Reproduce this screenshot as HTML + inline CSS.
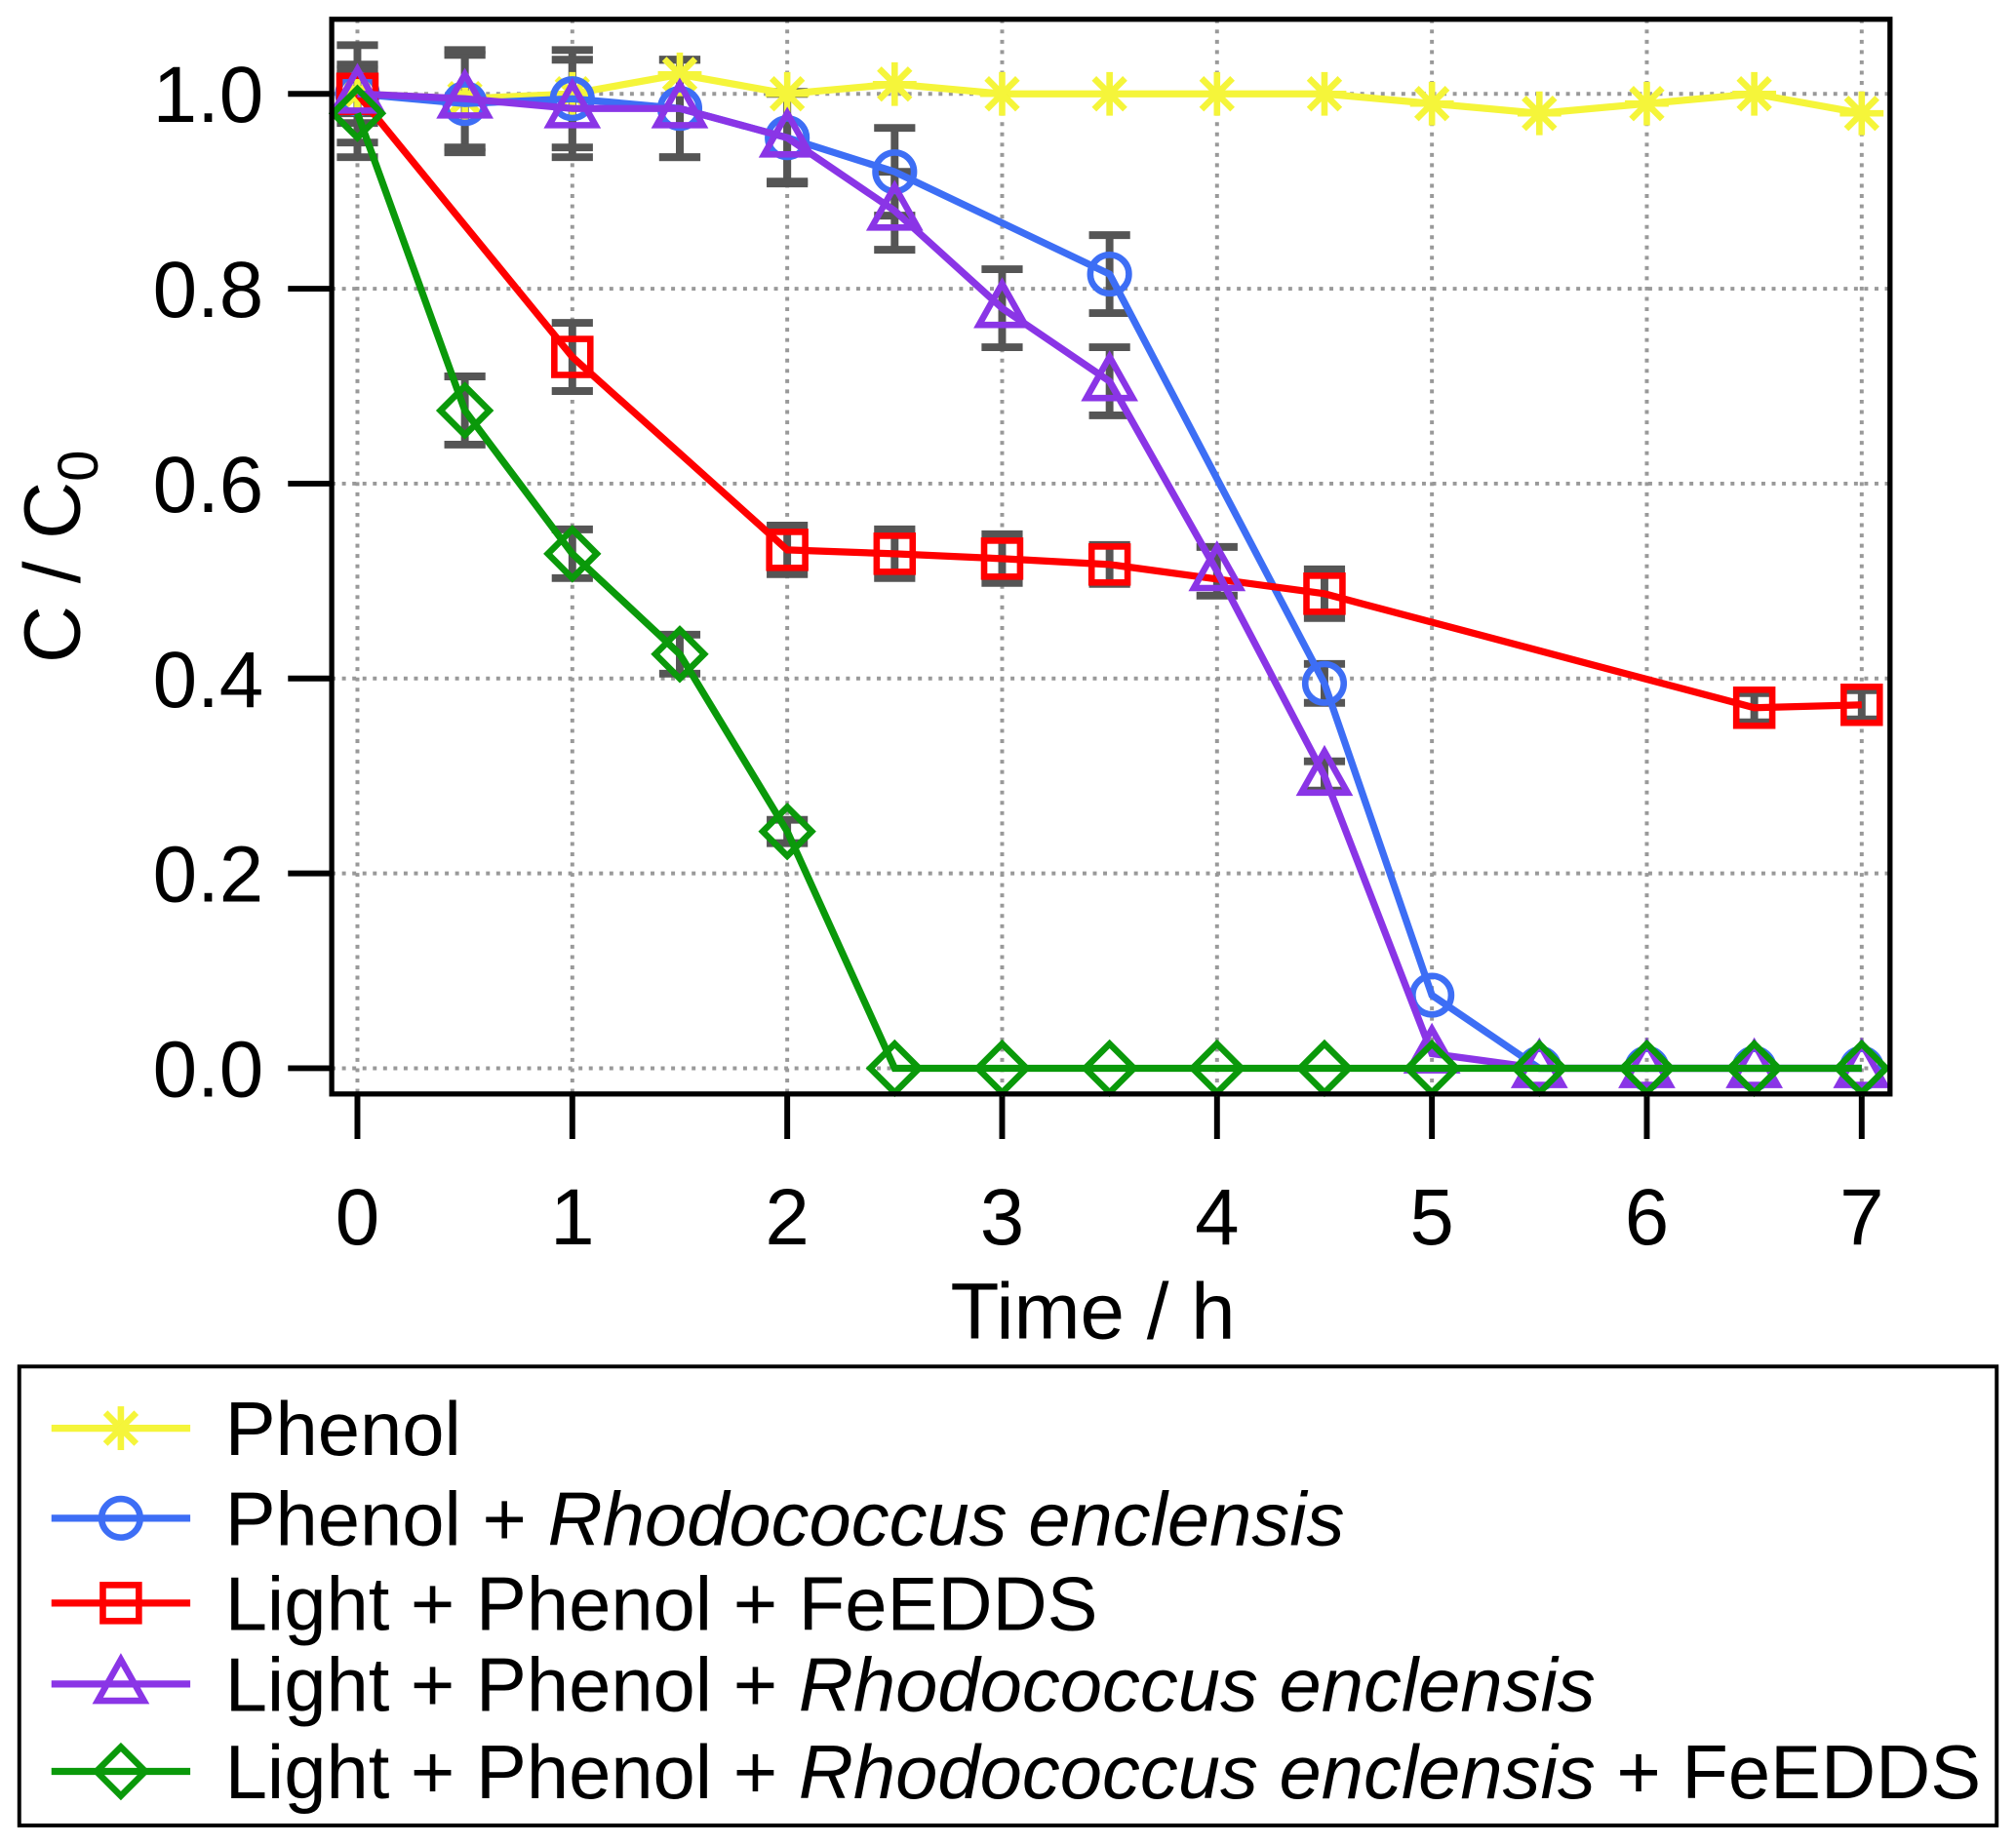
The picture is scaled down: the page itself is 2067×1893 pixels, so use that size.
<!DOCTYPE html>
<html><head><meta charset="utf-8"><style>
html,body{margin:0;padding:0;background:#fff}
svg{display:block}
text{font-family:"Liberation Sans",Arial,sans-serif;fill:#000}
</style></head><body>
<svg id="chart" width="2067" height="1893" viewBox="0 0 1568 1436" xmlns="http://www.w3.org/2000/svg">
<g id="grid"></g>
<g id="ticks"></g>
<g id="series"></g>
<rect x="258" y="15" width="1212" height="836" fill="none" stroke="#000" stroke-width="4"/>
<text x="850" y="1041" font-size="62" text-anchor="middle">Time / h</text>
<text transform="translate(62,433) rotate(-90)" font-size="62" text-anchor="middle">C / C<tspan font-size="44" dy="14">0</tspan></text>
<g>
<rect x="15" y="1063" width="1538" height="357" fill="#fff" stroke="#000" stroke-width="3"/>
<g id="legend-items"></g>
</g>
</svg>
<script>
const X_TICKS = [0,1,2,3,4,5,6,7];
const Y_TICKS = [0.0,0.2,0.4,0.6,0.8,1.0];
const Y_TICK_LABELS = ["0.0","0.2","0.4","0.6","0.8","1.0"];

const phenolT = [0,0.5,1,1.5,2,2.5,3,3.5,4,4.5,5,5.5,6,6.5,7];
const phenolV = [1.0,0.995,1.0,1.02,1.0,1.01,1.0,1.0,1.0,1.0,0.99,0.98,0.99,1.0,0.98];

const bioT = [0,0.5,1,1.5,2,2.5,3.5,4.5,5,5.5,6,6.5,7];
const bioV = [1.0,0.99,0.995,0.985,0.955,0.92,0.815,0.395,0.075,0,0,0,0];
const bioE = [0.05,0.05,0.05,0.05,0.047,0.045,0.04,0.02,0,0,0,0,0];

const feT = [0,1,2,2.5,3,3.5,4.5,6.5,7];
const feV = [1.0,0.73,0.532,0.528,0.523,0.517,0.487,0.37,0.373];
const feE = [0.02,0.035,0.025,0.025,0.025,0.02,0.025,0.015,0.015];

const lbT = [0,0.5,1,1.5,2,2.5,3,3.5,4,4.5,5,5.5,6,6.5,7];
const lbV = [1.0,0.995,0.985,0.985,0.955,0.88,0.78,0.705,0.51,0.30,0.015,0,0,0,0];
const lbE = [0.03,0.05,0.05,0.05,0.045,0.04,0.04,0.035,0.025,0.015,0,0,0,0,0];

const allT = [0,0.5,1,1.5,2,2.5,3,3.5,4,4.5,5,5.5,6,6.5,7];
const allV = [0.98,0.675,0.528,0.425,0.243,0,0,0,0,0,0,0,0,0,0];
const allE = [0.045,0.035,0.025,0.02,0.012,0,0,0,0,0,0,0,0,0,0];

const NS="http://www.w3.org/2000/svg";
const xs = t => 278 + t*(1448-278)/7;
const ys = v => 831 - v*(831-73);
function mk(tag, attrs, parent){const e=document.createElementNS(NS,tag);for(const k in attrs)e.setAttribute(k,attrs[k]);parent.appendChild(e);return e;}

const grid=document.getElementById('grid'), ticks=document.getElementById('ticks'), ser=document.getElementById('series');
X_TICKS.forEach(t=>{
  const g=mk('line',{x1:xs(t),x2:xs(t),y1:15,y2:851,stroke:'#999','stroke-width':3,'stroke-dasharray':'3 5'},grid);
  
  
  const tk=mk('line',{x1:xs(t),x2:xs(t),y1:851,y2:886,stroke:'#000','stroke-width':4.5},ticks);
  
  
  const tl=mk('text',{x:xs(t),y:968,'font-size':62,'text-anchor':'middle'},ticks);
  tl.textContent=String(t);
  
  
});
Y_TICKS.forEach((v,i)=>{
  const g=mk('line',{x1:258,x2:1470,y1:ys(v),y2:ys(v),stroke:'#999','stroke-width':3,'stroke-dasharray':'3 5'},grid);
  
  
  const tk=mk('line',{x1:224,x2:258,y1:ys(v),y2:ys(v),stroke:'#000','stroke-width':4.5},ticks);
  
  
  const tl=mk('text',{x:205,y:ys(v)+22,'font-size':62,'text-anchor':'end'},ticks);
  tl.textContent=Y_TICK_LABELS[i];
  
  
});

function marker(shape,cx,cy,color,parent){
  const r=14, sw=5;
  let e;
  if(shape==='star'){
    e=mk('g',{stroke:color,'stroke-width':5},parent);
    [0,45,90,135].forEach(a=>{const rad=a*Math.PI/180;mk('line',{x1:cx-17*Math.cos(rad),y1:cy-17*Math.sin(rad),x2:cx+17*Math.cos(rad),y2:cy+17*Math.sin(rad)},e);});
  } else if(shape==='circle'){
    e=mk('circle',{cx:cx,cy:cy,r:r+1,fill:'none',stroke:color,'stroke-width':sw},parent);
  } else if(shape==='square'){
    e=mk('rect',{x:cx-r,y:cy-r,width:2*r,height:2*r,fill:'none',stroke:color,'stroke-width':sw},parent);
  } else if(shape==='triangle'){
    e=mk('polygon',{points:`${cx},${cy-19} ${cx-18},${cy+13} ${cx+18},${cy+13}`,fill:'none',stroke:color,'stroke-width':sw},parent);
  } else {
    e=mk('polygon',{points:`${cx},${cy-19} ${cx+19},${cy} ${cx},${cy+19} ${cx-19},${cy}`,fill:'none',stroke:color,'stroke-width':sw},parent);
  }
  return e;
}

const seriesList=[
  {name:'phenol',T:phenolT,V:phenolV,E:null,color:'#f5f53a',shape:'star'},
  {name:'phenol-rhodococcus',T:bioT,V:bioV,E:bioE,color:'#3d6ef5',shape:'circle'},
  {name:'light-phenol-feedds',T:feT,V:feV,E:feE,color:'#ff0000',shape:'square'},
  {name:'light-phenol-rhodococcus',T:lbT,V:lbV,E:lbE,color:'#8a35e6',shape:'triangle'},
  {name:'light-phenol-rhodococcus-feedds',T:allT,V:allV,E:allE,color:'#0a990a',shape:'diamond'}
];

seriesList.forEach(s=>{
  if(!s.E)return;
  s.T.forEach((t,i)=>{
    const e=s.E[i]; if(!e)return;
    const g=mk('g',{stroke:'#555','stroke-width':6},ser);
    
    
    const x=xs(t), y1=ys(s.V[i]-e), y2=ys(s.V[i]+e);
    mk('line',{x1:x,x2:x,y1:y1,y2:y2},g);
    mk('line',{x1:x-16,x2:x+16,y1:y1,y2:y1},g);
    mk('line',{x1:x-16,x2:x+16,y1:y2,y2:y2},g);
  });
});
seriesList.forEach(s=>{
  const g=mk('g',{},ser);
  
  
  const pl=mk('polyline',{points:s.T.map((t,i)=>xs(t)+','+ys(s.V[i])).join(' '),fill:'none',stroke:s.color,'stroke-width':5.5},g);
  
  
  s.T.forEach((t,i)=>{
    const m=marker(s.shape,xs(t),ys(s.V[i]),s.color,g);
    
    
  });
});

const legendLabels=[
  'Phenol',
  'Phenol + <tspan font-style="italic">Rhodococcus enclensis</tspan>',
  'Light + Phenol + FeEDDS',
  'Light + Phenol + <tspan font-style="italic">Rhodococcus enclensis</tspan>',
  'Light + Phenol + <tspan font-style="italic">Rhodococcus enclensis</tspan> + FeEDDS'
];
const legendRows=[1111,1181,1247,1310,1378];
const li=document.getElementById('legend-items');
seriesList.forEach((s,i)=>{
  const g=mk('g',{},li);
  
  
  const y=legendRows[i];
  mk('line',{x1:40,x2:148,y1:y,y2:y,stroke:s.color,'stroke-width':5.5},g);
  marker(s.shape,94,y,s.color,g);
  const t=mk('text',{x:175,y:y+21,'font-size':59,textLength:0},g);
  t.removeAttribute('textLength');
  t.innerHTML=legendLabels[i];
});
</script>
</body></html>
